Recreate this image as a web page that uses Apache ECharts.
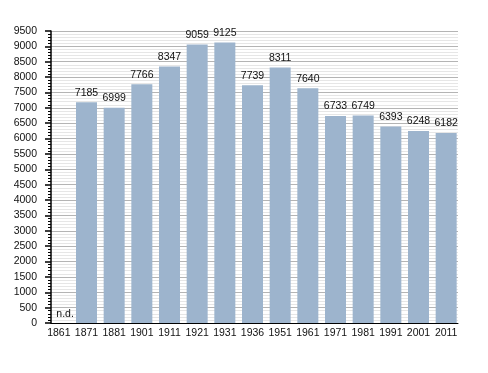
<!DOCTYPE html>
<html><head><meta charset="utf-8">
<script src="https://cdn.jsdelivr.net/npm/echarts@6/dist/echarts.min.js"></script>
<style>html,body{margin:0;padding:0;background:#fff}#c{width:488px;height:373px}</style>
</head><body><div id="c"></div>
<script>
var categories = ['1861','1871','1881','1901','1911','1921','1931','1936','1951','1961','1971','1981','1991','2001','2011'];
var population = [null,7185,6999,7766,8347,9059,9125,7739,8311,7640,6733,6749,6393,6248,6182];
var yMax = 9500, yInterval = 500;
var font = 'Liberation Sans, Arial, sans-serif';
var chart = echarts.init(document.getElementById('c'), null, {renderer:'canvas'});
var barData = population.map(function(v){ return v === null ? {value:0, label:{formatter:'n.d.', position:'insideBottomLeft', distance:3, offset:[5,0]}} : v; });
chart.setOption({
  animation:false,
  grid:[
    {left:51, right:30, top:31, bottom:50},
    {left:45, right:28, top:31, bottom:50}
  ],
  xAxis:[
    {gridIndex:0, type:'category', data:categories, axisLabel:{show:false}, axisTick:{show:false},
     axisLine:{lineStyle:{color:'#000', width:1}}, splitLine:{show:false}, z:5},
    {gridIndex:1, type:'category', data:categories, axisLine:{show:false}, axisTick:{show:false},
     axisLabel:{color:'#111', fontFamily:font, fontSize:10.5, margin:5, interval:0}}
  ],
  yAxis:[
    {gridIndex:0, type:'value', min:0, max:yMax, interval:yInterval,
     axisLine:{show:true, lineStyle:{color:'#000', width:1.5}},
     axisTick:{show:true, length:6, lineStyle:{color:'#000', width:1.5}},
     minorTick:{show:true, splitNumber:5, length:3, lineStyle:{color:'#000'}},
     splitLine:{show:true, lineStyle:{color:'#b4b4b4', width:1}},
     minorSplitLine:{show:true, lineStyle:{color:'#e6e6e6', width:1}},
     axisLabel:{color:'#111', fontFamily:font, fontSize:10.5, margin:14, formatter:function(v){return String(v);}}},
    {gridIndex:1, type:'value', min:0, max:yMax, interval:yInterval, show:false, splitLine:{show:false}}
  ],
  series:[{
    type:'bar', xAxisIndex:1, yAxisIndex:1, data:barData, barWidth:21,
    itemStyle:{color:'#9db4cd'},
    label:{show:true, position:'top', distance:4, color:'#111', fontFamily:font, fontSize:10.5},
    z:3
  }]
});
</script></body></html>
